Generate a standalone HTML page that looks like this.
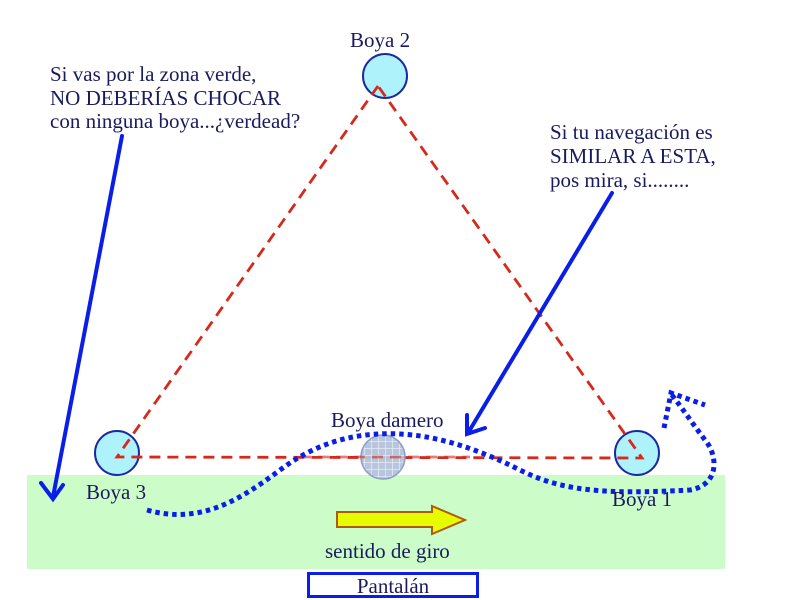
<!DOCTYPE html>
<html><head><meta charset="utf-8"><style>
html,body{margin:0;padding:0;background:#fff;width:800px;height:600px;overflow:hidden}
svg{display:block}
text{font-family:"Liberation Serif",serif;font-size:21px;fill:#1a1a5e}
</style></head><body>
<svg width="800" height="600" viewBox="0 0 800 600">
<defs>
<pattern id="grid" width="7" height="7" patternUnits="userSpaceOnUse">
<rect width="7" height="7" fill="#b4c4dc"/>
<path d="M0 0H7M0 0V7" stroke="#e4ecf4" stroke-width="1.5"/>
</pattern>
</defs>
<rect x="27" y="475" width="698" height="94" fill="#ccfcc8"/>
<g stroke="#d42a1c" stroke-width="2.8" stroke-dasharray="11,7" fill="none">
<circle cx="385" cy="76" r="22" fill="#aef2fc" stroke="#1a2aa0" stroke-width="2" stroke-dasharray="none"/>
<circle cx="117" cy="453" r="22" fill="#aef2fc" stroke="#1a2aa0" stroke-width="2" stroke-dasharray="none"/>
<circle cx="637" cy="453" r="22" fill="#aef2fc" stroke="#1a2aa0" stroke-width="2" stroke-dasharray="none"/>
<path d="M378 86 L117 457 L642 458 Z"/>
</g>
<circle cx="383" cy="457" r="22" fill="url(#grid)" stroke="#8a9ac8" stroke-width="1.5" opacity="0.95"/>
<path d="M300 457 H470" stroke="#d42a1c" stroke-width="2.8" stroke-dasharray="11,7" opacity="0.6"/>
<g stroke="#0a1ee8" stroke-width="4" fill="none" stroke-linecap="round">
<path d="M122 136 L53 497"/>
<path d="M41 483 L53 499 L63 485"/>
<path d="M612 193 L468 433"/>
<path d="M467 415 L467 434 L485 428"/>
</g>
<path d="M147 510 C200 525 240 500 280 470 C320 440 360 432 400 434 C440 436 480 450 520 470 C560 490 600 495 690 490 C720 485 718 455 705 440 C690 420 680 405 671 394"
 fill="none" stroke="#0a1ee8" stroke-width="5" stroke-dasharray="4.5,4"/>
<path d="M664 428 L671 393 L705 405" fill="none" stroke="#0a1ee8" stroke-width="5" stroke-dasharray="4.5,4"/>
<path d="M337 512 H432 V506 L465 520 L432 534 V527 H337 Z" fill="#e6fc00" stroke="#b05a10" stroke-width="2"/>
<rect x="308.5" y="573.5" width="169" height="23" fill="#fff" stroke="#0a1ee8" stroke-width="3"/>
<text x="393" y="593" text-anchor="middle">Pantalán</text>
<text x="350" y="47">Boya 2</text>
<text x="86" y="499">Boya 3</text>
<text x="612" y="506">Boya 1</text>
<text x="331" y="427">Boya damero</text>
<text x="325" y="558">sentido de giro</text>
<text x="50" y="81">Si vas por la zona verde,</text>
<text x="50" y="105">NO DEBERÍAS CHOCAR</text>
<text x="50" y="128">con ninguna boya...¿verdead?</text>
<text x="550" y="139">Si tu navegación es</text>
<text x="550" y="163">SIMILAR A ESTA,</text>
<text x="550" y="187">pos mira, si........</text>
</svg>
</body></html>
